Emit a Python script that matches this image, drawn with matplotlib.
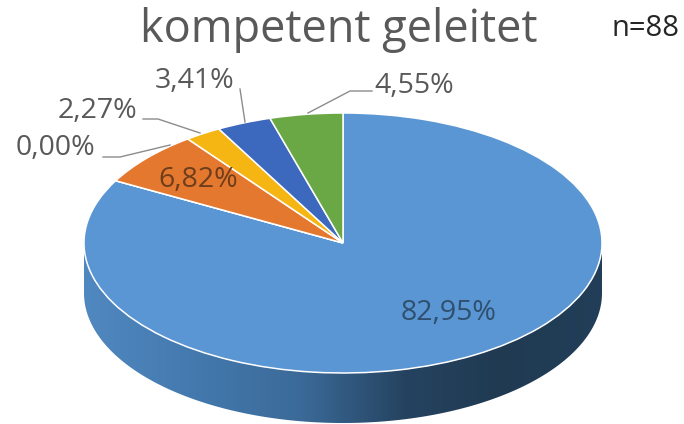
import numpy as np
from matplotlib import pyplot as plt
from matplotlib.patches import Polygon

values = [82.95, 0.00, 6.82, 2.27, 3.41, 4.55]
labels = ['82,95%', '0,00%', '6,82%', '2,27%', '3,41%', '4,55%']
colors = ['#5a96d3', '#a5a5a5', '#e5782f', '#f5b512', '#3c68bd', '#6aa845']
text_colors = ['#2f4f6f', '#595959', '#6e3d1c', '#595959', '#595959', '#595959']
# label position in picture pixels, leader line points
label_pos = [(449, 313), (55, 148), (198, 180), (97, 111), (194, 81), (414, 86)]
leaders = [None, [(103, 157), (120, 157), (170, 145)], None,
           [(143, 119), (158, 119), (200, 133)],
           [(240, 89), (245, 122)],
           [(372, 91), (350, 91), (308, 113)]]

cx, cy, rx, ry, depth = 343, 243, 259, 130, 50
W, H = 684, 424

fig = plt.figure(figsize=[W/100, H/100], dpi=100)
ax = fig.add_axes([0, 0, 1, 1])
ax.set_axis_off()


def px(x, y):
    return (x - cx)/rx, (cy - y)/ry


# side of the pie, gradient clipped to the rim
t = np.linspace(np.pi, 2*np.pi, 200)
rim = np.column_stack([np.cos(t), np.sin(t)])
low = rim + [0, -depth/ry]
side = np.vstack([rim, low[::-1]])
stops = np.interp(np.linspace(0, 1, 400), [0, 0.2, 0.42, 0.62, 0.8, 1],
                  np.arange(6))
pal = np.array([[0x50, 0x88, 0xc0], [0x44, 0x7a, 0xaf], [0x3b, 0x6a, 0x98],
                [0x25, 0x43, 0x60], [0x20, 0x3a, 0x52], [0x22, 0x3e, 0x58]])/255
img = np.stack([np.interp(stops, np.arange(6), pal[:, i]) for i in range(3)], axis=1)[None, :, :]
im = ax.imshow(img, extent=[-1, 1, -1.5, 0.2], aspect='auto', zorder=1)
im.set_clip_path(Polygon(side, transform=ax.transData))

wedges, _ = ax.pie(values, colors=colors, startangle=90, counterclock=False,
                   radius=1, wedgeprops=dict(edgecolor='white', linewidth=1.1))
for w in wedges:
    w.set_zorder(3)

ax.set_xlim(-cx/rx, (W - cx)/rx)
ax.set_ylim((cy - H)/ry, cy/ry)
ax.set_aspect('auto')

for lab, pos, lead, col in zip(labels, label_pos, leaders, text_colors):
    x, y = px(*pos)
    ax.text(x, y, lab, ha='center', va='center', fontsize=20.5,
            family='Open Sans', color=col, zorder=5)
    if lead:
        pts = np.array([px(*p) for p in lead])
        ax.plot(pts[:, 0], pts[:, 1], color='#8c8c8c', lw=1, zorder=4)

x, y = px(339, 30)
ax.text(x, y, 'kompetent geleitet', ha='center', va='center', fontsize=32.5,
        family='Open Sans', color='#595959', zorder=5)
x, y = px(645, 28)
ax.text(x, y, 'n=88', ha='center', va='center', fontsize=21,
        family='Open Sans', color='#262626', zorder=5)

fig.savefig('out.png', dpi=100)
